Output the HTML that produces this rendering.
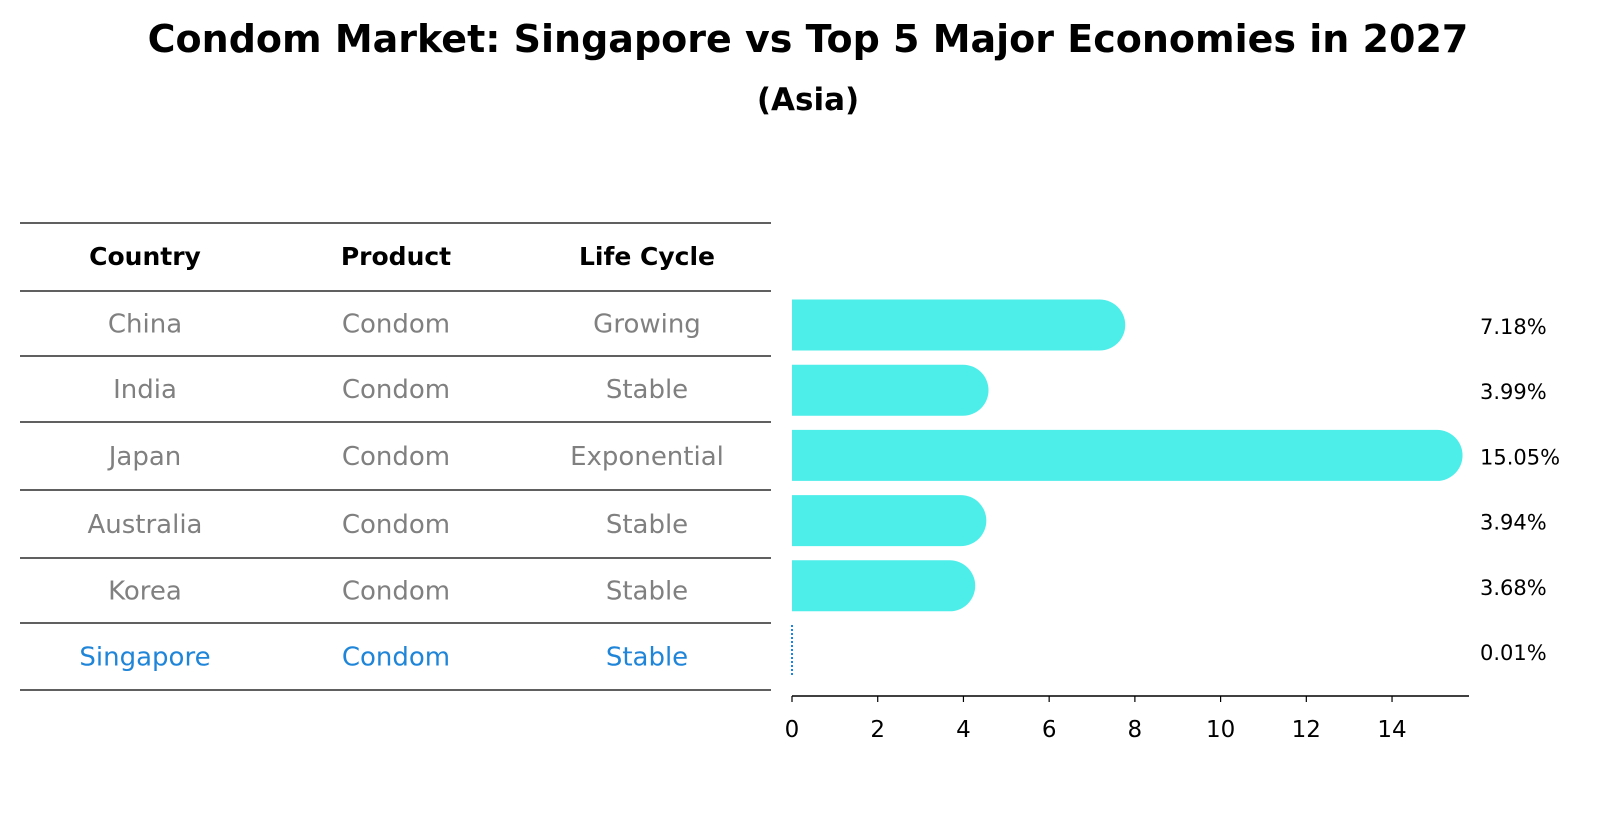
<!DOCTYPE html>
<html><head><meta charset="utf-8"><style>
body{margin:0;background:#fff;font-family:"Liberation Sans","DejaVu Sans",sans-serif;}
</style></head><body>
<svg width="1604" height="823" xmlns="http://www.w3.org/2000/svg" font-family="DejaVu Sans, Liberation Sans, sans-serif">
<text x="808" y="52" text-anchor="middle" font-size="38" font-weight="bold">Condom Market: Singapore vs Top 5 Major Economies in 2027</text>
<text x="808" y="110" text-anchor="middle" font-size="31" font-weight="bold">(Asia)</text>
<g id="table"></g>
<g id="bars"></g>
</svg>
<script>
const countries=["China","India","Japan","Australia","Korea","Singapore"];
const products=["Condom","Condom","Condom","Condom","Condom","Condom"];
const cycles=["Growing","Stable","Exponential","Stable","Stable","Stable"];
const values=[7.18,3.99,15.05,3.94,3.68,0.01];
const ticks=[0,2,4,6,8,10,12,14];
const NS="http://www.w3.org/2000/svg";
function mk(tag,attrs,parent,txt){const e=document.createElementNS(NS,tag);for(const k in attrs)e.setAttribute(k,attrs[k]);if(txt!==undefined)e.textContent=txt;parent.appendChild(e);return e;}
const x=v=>792+v*42.86;
const rowY=i=>325+i*65.2;
const tbl=document.getElementById('table');
const lines=[223,291,356,422,490,558,623,690];
lines.forEach(y=>{const l=mk('line',{x1:20,x2:771,y1:y,y2:y,stroke:'#000','stroke-width':1.2},tbl);

});
const cols=[145,396,647];
["Country","Product","Life Cycle"].forEach((h,j)=>{const t=mk('text',{x:cols[j],y:265,'text-anchor':'middle','font-size':25,'font-weight':'bold'},tbl,h);

});
countries.forEach((c,i)=>{const col=c==="Singapore"?"#1f85d8":"#808080";
[c,products[i],cycles[i]].forEach((s,j)=>{const t=mk('text',{x:cols[j],y:(lines[i+1]+lines[i+2])/2+9,'text-anchor':'middle','font-size':26,fill:col},tbl,s);

});});
const g=document.getElementById('bars');
values.forEach((v,i)=>{const cy=rowY(i);
if(countries[i]==="Singapore"){const l=mk('line',{x1:x(0),x2:x(0),y1:cy-26,y2:cy+26,stroke:'#1f85d8','stroke-width':2,'stroke-dasharray':'2,2'},g);

}
else{const r=25.5;const p=mk('path',{d:`M${x(0)},${cy-r}H${x(v)}A${r},${r} 0 0 1 ${x(v)},${cy+r}H${x(0)}Z`,fill:'#4deeea'},g);

}
const t=mk('text',{x:1480,y:cy+9,'font-size':21},g,v.toFixed(2)+'%');

});
const ax=mk('line',{x1:x(0),x2:1469,y1:696,y2:696,stroke:'#000','stroke-width':1.5},g);


ticks.forEach(t=>{const l=mk('line',{x1:x(t),x2:x(t),y1:696,y2:702,stroke:'#000','stroke-width':1.2},g);


const tx=mk('text',{x:x(t),y:737,'text-anchor':'middle','font-size':23},g,String(t));

});
</script>
</body></html>
